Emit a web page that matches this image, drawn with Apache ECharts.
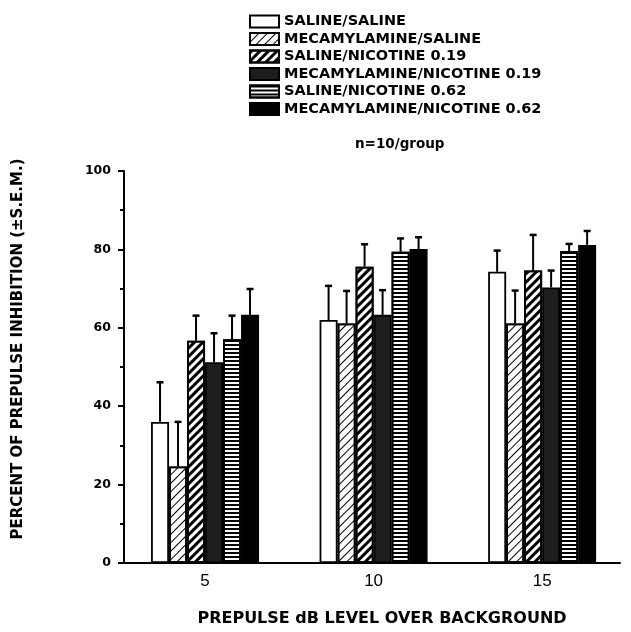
<!DOCTYPE html>
<html>
<head>
<meta charset="utf-8">
<script src="https://cdn.jsdelivr.net/npm/echarts@6/dist/echarts.min.js"></script>
<style>
  html, body { margin: 0; padding: 0; background: #fff; }
  #chart { width: 631px; height: 632px; }
</style>
</head>
<body>
<div id="chart"></div>
<script>
// prepulse levels (dB over background)
var levels = [5, 10, 15];
var groupNames = [
  'SALINE/SALINE',
  'MECAMYLAMINE/SALINE',
  'SALINE/NICOTINE 0.19',
  'MECAMYLAMINE/NICOTINE 0.19',
  'SALINE/NICOTINE 0.62',
  'MECAMYLAMINE/NICOTINE 0.62'
];
// mean % prepulse inhibition per group
var salSal = [36.0, 62.0, 74.3];
var mecSal = [24.6, 61.1, 61.1];
var salNic019 = [56.7, 75.6, 74.6];
var mecNic019 = [51.2, 63.3, 70.3];
var salNic062 = [57.1, 79.4, 79.6];
var mecNic062 = [63.3, 80.1, 81.1];
// s.e.m.
var semSalSal = [10.1, 8.7, 5.4];
var semMecSal = [11.4, 8.3, 8.4];
var semSalNic019 = [6.4, 5.7, 9.1];
var semMecNic019 = [7.4, 6.3, 4.3];
var semSalNic062 = [6.0, 3.4, 1.8];
var semMecNic062 = [6.6, 3.0, 3.6];
var yTicks = [0, 20, 40, 60, 80, 100];

var means = [salSal, mecSal, salNic019, mecNic019, salNic062, mecNic062];
var sems = [semSalSal, semMecSal, semSalNic019, semMecNic019, semSalNic062, semMecNic062];

var BAR_W = 18;
var BOLD = 'DejaVu Sans';

// fill / pattern per group
var styles = [
  { color: '#fff' },
  { color: '#fff', decal: { symbol: 'rect', symbolSize: 1, color: '#000', dashArrayX: [1, 0], dashArrayY: [1, 5], rotation: -Math.PI / 4 } },
  { color: '#fff', decal: { symbol: 'rect', symbolSize: 1, color: '#000', dashArrayX: [1, 0], dashArrayY: [3, 3], rotation: -Math.PI / 4 } },
  { color: '#1e1e1e' },
  { color: '#fff', decal: { symbol: 'rect', symbolSize: 1, color: '#000', dashArrayX: [1, 0], dashArrayY: [2, 2], rotation: 0 } },
  { color: '#000' }
];

var series = [];
groupNames.forEach(function(name, i) {
  series.push({
    name: name,
    type: 'bar',
    barWidth: BAR_W,
    barGap: '0%',
    itemStyle: Object.assign({ borderColor: '#000', borderWidth: 1.8 }, styles[i]),
    data: levels.map(function(l, j) { return [l, means[i][j]]; }),
    z: 2
  });
});

var errData = [];
means.forEach(function(m, i) {
  levels.forEach(function(l, j) {
    errData.push([l, m[j], sems[i][j], i]);
  });
});

function renderErr(params, api) {
  var k = api.value(3);
  var base = api.coord([api.value(0), api.value(1)]);
  var top = api.coord([api.value(0), api.value(1) + api.value(2)]);
  var x = base[0] + (k - 2.5) * BAR_W;
  return {
    type: 'group',
    children: [
      { type: 'line', shape: { x1: x, y1: base[1], x2: x, y2: top[1] }, style: { stroke: '#000', lineWidth: 2 } },
      { type: 'line', shape: { x1: x - 3.5, y1: top[1], x2: x + 3.5, y2: top[1] }, style: { stroke: '#000', lineWidth: 2.5 } }
    ]
  };
}

series.push({
  type: 'custom',
  renderItem: renderErr,
  data: errData,
  encode: { x: 0, y: 1 },
  clip: false,
  z: 5,
  silent: true
});

var chart = echarts.init(document.getElementById('chart'));
chart.setOption({
  animation: false,
  backgroundColor: '#fff',
  grid: { left: 124, right: 11, top: 171, bottom: 69 },
  legend: {
    orient: 'vertical',
    left: 244,
    top: 9,
    icon: 'rect',
    itemWidth: 29,
    itemHeight: 12,
    itemGap: 2.5,
    data: groupNames,
    textStyle: { fontFamily: BOLD, fontWeight: 'bold', fontSize: 14.5, color: '#000' }
  },
  title: {
    text: 'n=10/group',
    left: 350,
    top: 132,
    textStyle: { fontFamily: BOLD, fontWeight: 'bold', fontSize: 13.5, color: '#000' }
  },
  xAxis: {
    type: 'value',
    min: 2.596,
    max: 17.31,
    name: 'PREPULSE dB LEVEL OVER BACKGROUND',
    nameLocation: 'middle',
    nameGap: 48,
    nameTextStyle: { fontFamily: BOLD, fontWeight: 'bold', fontSize: 16, color: '#000', padding: [0, 0, 0, 20] },
    axisLine: { show: true, onZero: false, lineStyle: { color: '#000', width: 2 } },
    axisTick: { show: false },
    splitLine: { show: false },
    axisLabel: {
      customValues: levels,
      margin: 10,
      fontFamily: 'Liberation Sans',
      fontSize: 17,
      color: '#000'
    }
  },
  yAxis: {
    type: 'value',
    min: 0,
    max: 100,
    interval: 20,
    name: 'PERCENT OF PREPULSE INHIBITION (\u00b1S.E.M.)',
    nameLocation: 'middle',
    nameGap: 98,
    nameTextStyle: { fontFamily: BOLD, fontWeight: 'bold', fontSize: 15, color: '#000', padding: [0, 0, 0, 36] },
    axisLine: { show: true, lineStyle: { color: '#000', width: 2 } },
    axisTick: { show: true, length: 6, lineStyle: { color: '#000', width: 2 } },
    minorTick: { show: true, splitNumber: 2, length: 4, lineStyle: { color: '#000', width: 2 } },
    splitLine: { show: false },
    axisLabel: {
      customValues: yTicks,
      margin: 13,
      fontFamily: BOLD,
      fontWeight: 'bold',
      fontSize: 12.5,
      color: '#000'
    }
  },
  series: series
});
</script>
</body>
</html>
